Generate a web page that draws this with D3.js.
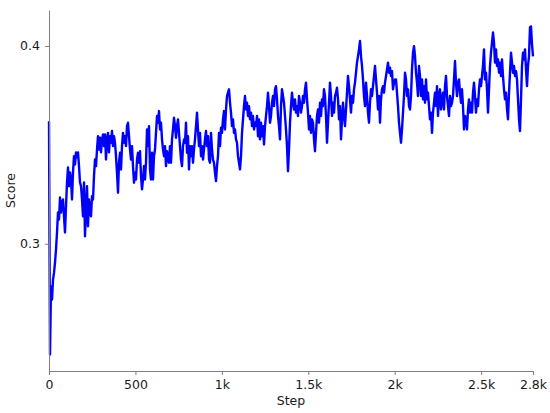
<!DOCTYPE html>
<html>
<head>
<meta charset="utf-8">
<script src="https://cdn.jsdelivr.net/npm/d3@7"></script>
<style>
  html, body { margin: 0; padding: 0; background: #fff; }
  svg { display: block; font-family: "DejaVu Sans", sans-serif; }
</style>
</head>
<body>
<div id="chart"></div>
<script>
var scores = [
  0.362, 0.244, 0.2785, 0.2718, 0.2819, 0.2853, 0.2905, 0.2971, 0.3057, 0.3158,
  0.3123, 0.3234, 0.3158, 0.3209, 0.3224, 0.3139, 0.3057, 0.3190, 0.3310, 0.3386,
  0.3291, 0.3361, 0.3325, 0.3224, 0.3361, 0.3443, 0.3401, 0.3462, 0.3437, 0.3462,
  0.3393, 0.3310, 0.3291, 0.3224, 0.3139, 0.3310, 0.3038, 0.3173, 0.3291, 0.3089,
  0.3224, 0.3158, 0.3139, 0.3241, 0.3224, 0.3342, 0.3426, 0.3393, 0.3477, 0.3544,
  0.3477, 0.3536, 0.3462, 0.3528, 0.3553, 0.3494, 0.3553, 0.3426, 0.3528, 0.3561,
  0.3462, 0.3544, 0.3511, 0.3570, 0.3494, 0.3544, 0.3511, 0.3443, 0.3359, 0.3258,
  0.3410, 0.3460, 0.3376, 0.3494, 0.3561, 0.3511, 0.3544, 0.3494, 0.3595, 0.3612,
  0.3544, 0.3477, 0.3426, 0.3494, 0.3393, 0.3309, 0.3359, 0.3325, 0.3426, 0.3460,
  0.3410, 0.3468, 0.3342, 0.3275, 0.3325, 0.3393, 0.3325, 0.3410, 0.3578, 0.3494,
  0.3595, 0.3376, 0.3325, 0.3460, 0.3325, 0.3443, 0.3477, 0.3561, 0.3646, 0.3612,
  0.3671, 0.3578, 0.3612, 0.3528, 0.3477, 0.3443, 0.3494, 0.3393, 0.3468, 0.3426,
  0.3410, 0.3494, 0.3410, 0.3528, 0.3578, 0.3637, 0.3595, 0.3536, 0.3595, 0.3629,
  0.3561, 0.3494, 0.3426, 0.3393, 0.3494, 0.3528, 0.3511, 0.3612, 0.3460, 0.3544,
  0.3376, 0.3494, 0.3443, 0.3494, 0.3410, 0.3477, 0.3528, 0.3595, 0.3663, 0.3578,
  0.3494, 0.3561, 0.3443, 0.3494, 0.3426, 0.3477, 0.3528, 0.3570, 0.3494, 0.3544,
  0.3426, 0.3410, 0.3561, 0.3477, 0.3426, 0.3410, 0.3359, 0.3317, 0.3393, 0.3443,
  0.3561, 0.3494, 0.3587, 0.3561, 0.3629, 0.3671, 0.3578, 0.3679, 0.3747, 0.3764,
  0.3781, 0.3713, 0.3663, 0.3595, 0.3629, 0.3561, 0.3578, 0.3528, 0.3511, 0.3443,
  0.3410, 0.3376, 0.3443, 0.3561, 0.3629, 0.3696, 0.3747, 0.3679, 0.3713, 0.3646,
  0.3696, 0.3629, 0.3663, 0.3595, 0.3646, 0.3578, 0.3612, 0.3595, 0.3646, 0.3544,
  0.3629, 0.3528, 0.3612, 0.3544, 0.3595, 0.3502, 0.3595, 0.3646, 0.3696, 0.3764,
  0.3696, 0.3612, 0.3646, 0.3713, 0.3747, 0.3696, 0.3781, 0.3797, 0.3730, 0.3646,
  0.3595, 0.3528, 0.3696, 0.3781, 0.3747, 0.3713, 0.3646, 0.3578, 0.3494, 0.3367,
  0.3477, 0.3612, 0.3696, 0.3764, 0.3713, 0.3679, 0.3730, 0.3663, 0.3696, 0.3646,
  0.3747, 0.3713, 0.3663, 0.3696, 0.3747, 0.3713, 0.3781, 0.3815, 0.3730, 0.3663,
  0.3578, 0.3646, 0.3561, 0.3629, 0.3612, 0.3528, 0.3468, 0.3561, 0.3646, 0.3679,
  0.3612, 0.3713, 0.3646, 0.3730, 0.3696, 0.3781, 0.3747, 0.3646, 0.3511, 0.3612,
  0.3713, 0.3815, 0.3747, 0.3646, 0.3713, 0.3663, 0.3747, 0.3764, 0.3789, 0.3730,
  0.3629, 0.3696, 0.3528, 0.3629, 0.3713, 0.3646, 0.3595, 0.3679, 0.3764, 0.3848,
  0.3797, 0.3730, 0.3663, 0.3747, 0.3713, 0.3781, 0.3815, 0.3865, 0.3916, 0.3949,
  0.3983, 0.4025, 0.3949, 0.3899, 0.3831, 0.3747, 0.3696, 0.3815, 0.3747, 0.3663,
  0.3612, 0.3713, 0.3781, 0.3747, 0.3797, 0.3848, 0.3899, 0.3831, 0.3764, 0.3679,
  0.3747, 0.3612, 0.3730, 0.3781, 0.3797, 0.3764, 0.3815, 0.3848, 0.3882, 0.3916,
  0.3865, 0.3890, 0.3848, 0.3873, 0.3781, 0.3815, 0.3831, 0.3831, 0.3764, 0.3696,
  0.3612, 0.3561, 0.3511, 0.3578, 0.3663, 0.3747, 0.3865, 0.3831, 0.3747, 0.3781,
  0.3696, 0.3679, 0.3747, 0.3882, 0.3966, 0.3999, 0.3949, 0.3865, 0.3815, 0.3747,
  0.3899, 0.3848, 0.3747, 0.3831, 0.3730, 0.3797, 0.3713, 0.3831, 0.3730, 0.3764,
  0.3696, 0.3629, 0.3663, 0.3561, 0.3663, 0.3713, 0.3764, 0.3696, 0.3797, 0.3646,
  0.3747, 0.3781, 0.3679, 0.3730, 0.3764, 0.3679, 0.3797, 0.3848, 0.3747, 0.3696,
  0.3646, 0.3747, 0.3696, 0.3713, 0.3747, 0.3831, 0.3924, 0.3815, 0.3747, 0.3815,
  0.3831, 0.3764, 0.3713, 0.3781, 0.3696, 0.3578, 0.3646, 0.3629, 0.3578, 0.3679,
  0.3730, 0.3663, 0.3713, 0.3663, 0.3764, 0.3815, 0.3747, 0.3663, 0.3730, 0.3696,
  0.3781, 0.3831, 0.3797, 0.3848, 0.3899, 0.3983, 0.3831, 0.3865, 0.3781, 0.3663,
  0.3781, 0.3899, 0.3966, 0.4017, 0.4068, 0.4017, 0.3916, 0.3983, 0.3899, 0.3932,
  0.3865, 0.3916, 0.3848, 0.3932, 0.3848, 0.3781, 0.3730, 0.3764, 0.3679, 0.3629,
  0.3764, 0.3865, 0.3966, 0.3916, 0.3865, 0.3899, 0.3848, 0.3873, 0.3831, 0.3730,
  0.3629, 0.3570, 0.3730, 0.3899, 0.3966, 0.3932, 0.3983, 0.3882, 0.3797, 0.3899,
  0.3949, 0.4094, 0.4099, 0.4008, 0.3948
];
var lastStep = 2800;

var xTickValues = [0, 500, 1000, 1500, 2000, 2500, 2800];
var xTickLabels = ['0', '500', '1k', '1.5k', '2k', '2.5k', '2.8k'];
var yTickValues = [0.3, 0.4];
var yTickLabels = ['0.3', '0.4'];

(function() {
  'use strict';

  var width = 550, height = 413;
  var margin = { top: 10, right: 17, bottom: 42, left: 49 };
  var spineColor = '#808080';
  var textColor = '#1a1a1a';

  // logged at even intervals over the run
  var points = scores.map(function(v, i) {
    return { step: i * lastStep / (scores.length - 1), score: v };
  });

  var svg = d3.select('#chart')
    .append('svg')
    .attr('width', width)
    .attr('height', height);

  var x = d3.scaleLinear()
    .domain([0, lastStep])
    .range([margin.left, width - margin.right]);

  // matplotlib-like 5% margin on y
  var ext = d3.extent(scores);
  var pad = (ext[1] - ext[0]) * 0.05;
  var y = d3.scaleLinear()
    .domain([ext[0] - pad, ext[1] + pad])
    .range([height - margin.bottom, margin.top]);

  // --- Line ---
  var line = d3.line()
    .x(function(d) { return x(d.step); })
    .y(function(d) { return y(d.score); });

  svg.append('path')
    .datum(points)
    .attr('d', line)
    .style('fill', 'none')
    .style('stroke', '#0000ff')
    .style('stroke-width', '2.4')
    .style('stroke-linejoin', 'round');

  // --- Axes ---
  var xAxis = d3.axisBottom(x)
    .tickValues(xTickValues)
    .tickFormat(function(d, i) { return xTickLabels[i]; })
    .tickSize(4)
    .tickSizeOuter(0)
    .tickPadding(5);

  var yAxis = d3.axisLeft(y)
    .tickValues(yTickValues)
    .tickFormat(function(d, i) { return yTickLabels[i]; })
    .tickSize(4)
    .tickSizeOuter(0)
    .tickPadding(5);

  var gx = svg.append('g')
    .attr('transform', 'translate(0,' + (height - margin.bottom) + ')')
    .call(xAxis);

  var gy = svg.append('g')
    .attr('transform', 'translate(' + margin.left + ',0)')
    .call(yAxis);

  [gx, gy].forEach(function(g) {
    g.select('.domain').style('stroke', spineColor).style('stroke-width', '1');
    g.selectAll('.tick line').style('stroke', spineColor).style('stroke-width', '1');
    g.selectAll('.tick text')
      .style('font-family', '"DejaVu Sans", sans-serif')
      .style('font-size', '12.5px')
      .style('fill', textColor);
  });

  // --- Axis labels ---
  svg.append('text')
    .text('Step')
    .attr('x', (margin.left + width - margin.right) / 2)
    .attr('y', 405)
    .attr('text-anchor', 'middle')
    .style('font-size', '12.5px')
    .style('fill', textColor);

  svg.append('text')
    .text('Score')
    .attr('transform', 'translate(14.5,' + (margin.top + height - margin.bottom) / 2 + ') rotate(-90)')
    .attr('text-anchor', 'middle')
    .style('font-size', '12.5px')
    .style('fill', textColor);
})();
</script>
</body>
</html>
